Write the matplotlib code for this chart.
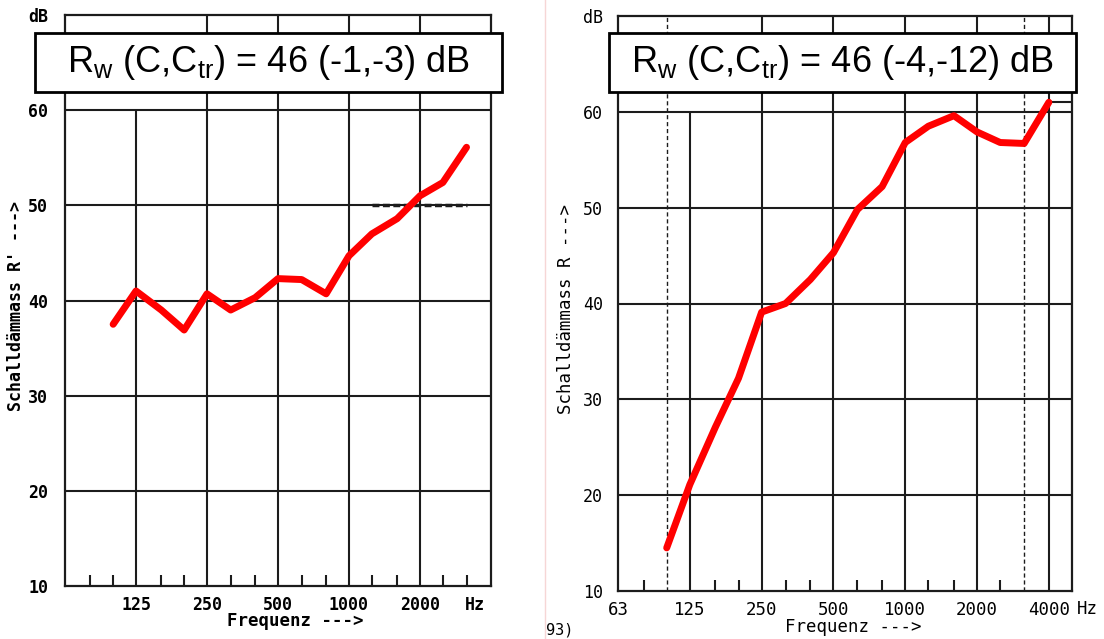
import matplotlib.pyplot as plt
from matplotlib.lines import Line2D
from matplotlib.patches import Rectangle
from matplotlib.ticker import NullLocator

plt.rcParams['mathtext.fontset'] = 'custom'
plt.rcParams['mathtext.rm'] = 'Liberation Sans'
plt.rcParams['mathtext.it'] = 'Liberation Sans'

# third-octave band centres (Hz)
freqs_left = [100, 125, 160, 200, 250, 315, 400, 500, 630, 800,
              1000, 1250, 1600, 2000, 2500, 3150]
r_left = [37.5, 41.0, 39.0, 36.9, 40.7, 39.0, 40.3, 42.3, 42.2, 40.7,
          44.7, 47.0, 48.6, 51.0, 52.4, 56.1]

freqs_right = [100, 125, 160, 200, 250, 315, 400, 500, 630, 800,
               1000, 1250, 1600, 2000, 2500, 3150, 4000]
r_right = [14.5, 21.1, 27.1, 32.2, 39.1, 40.0, 42.5, 45.3, 49.8, 52.2,
           56.8, 58.5, 59.6, 57.9, 56.8, 56.7, 61.0]

# short reference segments printed on the scans
ref_left_f = [1250, 3150]
ref_left_v = [50, 50]
ref_right_f = [4000, 5000]
ref_right_v = [61, 61]

minor_freqs = [80, 100, 160, 200, 315, 400, 630, 800, 1250, 1600, 2500, 3150]
y_ticks = [10, 20, 30, 40, 50, 60, 70]
y_labels = ['10', '20', '30', '40', '50', '60', 'dB']
titles = [r'R$_{\mathrm{w}}$ (C,C$_{\mathrm{tr}}$) = 46 (-1,-3) dB',
          r'R$_{\mathrm{w}}$ (C,C$_{\mathrm{tr}}$) = 46 (-4,-12) dB']

INK = '#1c1c1c'


def draw_panel(ax, xmax, grid_top, dashed, minors, mono_weight):
    ax.set_xscale('log', base=2)
    ax.set_xlim(62.5, xmax)
    ax.set_ylim(10, 70)
    ax.xaxis.set_minor_locator(NullLocator())
    for s in ax.spines.values():
        s.set_linewidth(1.6)
        s.set_color(INK)
    ax.hlines([20, 30, 40, 50, 60], 62.5, xmax, color=INK, lw=1.5, zorder=1)
    for f, top in grid_top:
        ax.vlines(f, 10, top, color=INK, lw=1.5, zorder=1)
    for f in dashed:
        ax.vlines(f, 10, 70, color=INK, lw=1.0, ls=(0, (3, 2)), zorder=1)
    ax.vlines(minors, 10, 11.2, color=INK, lw=1.5, zorder=1)
    ax.set_yticks(y_ticks)
    ax.set_yticklabels(y_labels, family='DejaVu Sans Mono', weight=mono_weight,
                       fontsize=12)
    ax.tick_params(length=0, pad=12)


fig = plt.figure(figsize=(11.04, 6.39), dpi=100)

# left chart
ax1 = fig.add_axes([65 / 1104, 53 / 639, 426 / 1104, 571 / 639])
draw_panel(ax1, 4000,
           [(125, 60), (250, 70), (500, 70), (1000, 70), (2000, 70)],
           [], minor_freqs, 'bold')
ax1.set_xticks([125, 250, 500, 1000, 2000])
ax1.set_xticklabels(['125', '250', '500', '1000', '2000'],
                    family='DejaVu Sans Mono', weight='bold', fontsize=12)
ax1.tick_params(axis='x', pad=7)
ax1.text(0.962, -0.033, 'Hz', transform=ax1.transAxes, ha='center', va='center',
         family='DejaVu Sans Mono', weight='bold', fontsize=12)
ax1.text(0.54, -0.062, 'Frequenz --->', transform=ax1.transAxes, ha='center',
         va='center', family='DejaVu Sans Mono', weight='bold', fontsize=12.5)
ax1.set_ylabel("Schalldämmass R' --->", family='DejaVu Sans Mono',
               weight='bold', fontsize=12)
ax1.yaxis.set_label_coords(-0.094, 0.49)
ax1.plot(ref_left_f, ref_left_v, color=INK, lw=2.5, ls=(0, (2, 1)), zorder=2)
ax1.plot(freqs_left, r_left, color='#ff0000', lw=5, solid_capstyle='round',
         solid_joinstyle='round', zorder=3)

# right chart
ax2 = fig.add_axes([618 / 1104, 48 / 639, 454 / 1104, 575 / 639])
draw_panel(ax2, 5000,
           [(125, 60), (250, 70), (500, 70), (1000, 70), (2000, 70), (4000, 70)],
           [100, 3150], [80, 160, 200, 315, 400, 630, 800, 1250, 1600, 2500],
           'normal')
ax2.set_xticks([62.5, 125, 250, 500, 1000, 2000, 4000])
ax2.set_xticklabels(['63', '125', '250', '500', '1000', '2000', '4000'],
                    family='DejaVu Sans Mono', fontsize=12.5)
ax2.tick_params(axis='x', pad=7)
ax2.tick_params(axis='y', pad=11)
ax2.text(1.033, -0.032, 'Hz', transform=ax2.transAxes, ha='center', va='center',
         family='DejaVu Sans Mono', fontsize=12.5)
ax2.text(0.518, -0.062, 'Frequenz --->', transform=ax2.transAxes, ha='center',
         va='center', family='DejaVu Sans Mono', fontsize=12.5)
ax2.set_ylabel('Schalldämmass R --->', family='DejaVu Sans Mono', fontsize=12.5)
ax2.yaxis.set_label_coords(-0.095, 0.49)
ax2.plot(ref_right_f, ref_right_v, color=INK, lw=1.5, zorder=2)
ax2.plot(freqs_right, r_right, color='#ff0000', lw=5, solid_capstyle='round',
         solid_joinstyle='round', zorder=3)

fig.text(546 / 1104, 1 - 630 / 639, '93)', ha='left', va='center',
         family='DejaVu Sans Mono', fontsize=11)
fig.add_artist(Line2D([545 / 1104, 545 / 1104], [0, 1], color='#f6d6d6', lw=1))

# Rw annotation boxes
boxes = [(35, 502), (609, 1076)]
for (x0, x1), title in zip(boxes, titles):
    fig.add_artist(Rectangle((x0 / 1104, 1 - 92 / 639), (x1 - x0) / 1104, 59 / 639,
                             transform=fig.transFigure, facecolor='white',
                             edgecolor='black', lw=2, zorder=5))
    fig.text((x0 + x1) / 2 / 1104, 1 - 62 / 639, title, ha='center', va='center',
             family='Liberation Sans', fontsize=26, zorder=6)

fig.savefig('out.png', dpi=100)
